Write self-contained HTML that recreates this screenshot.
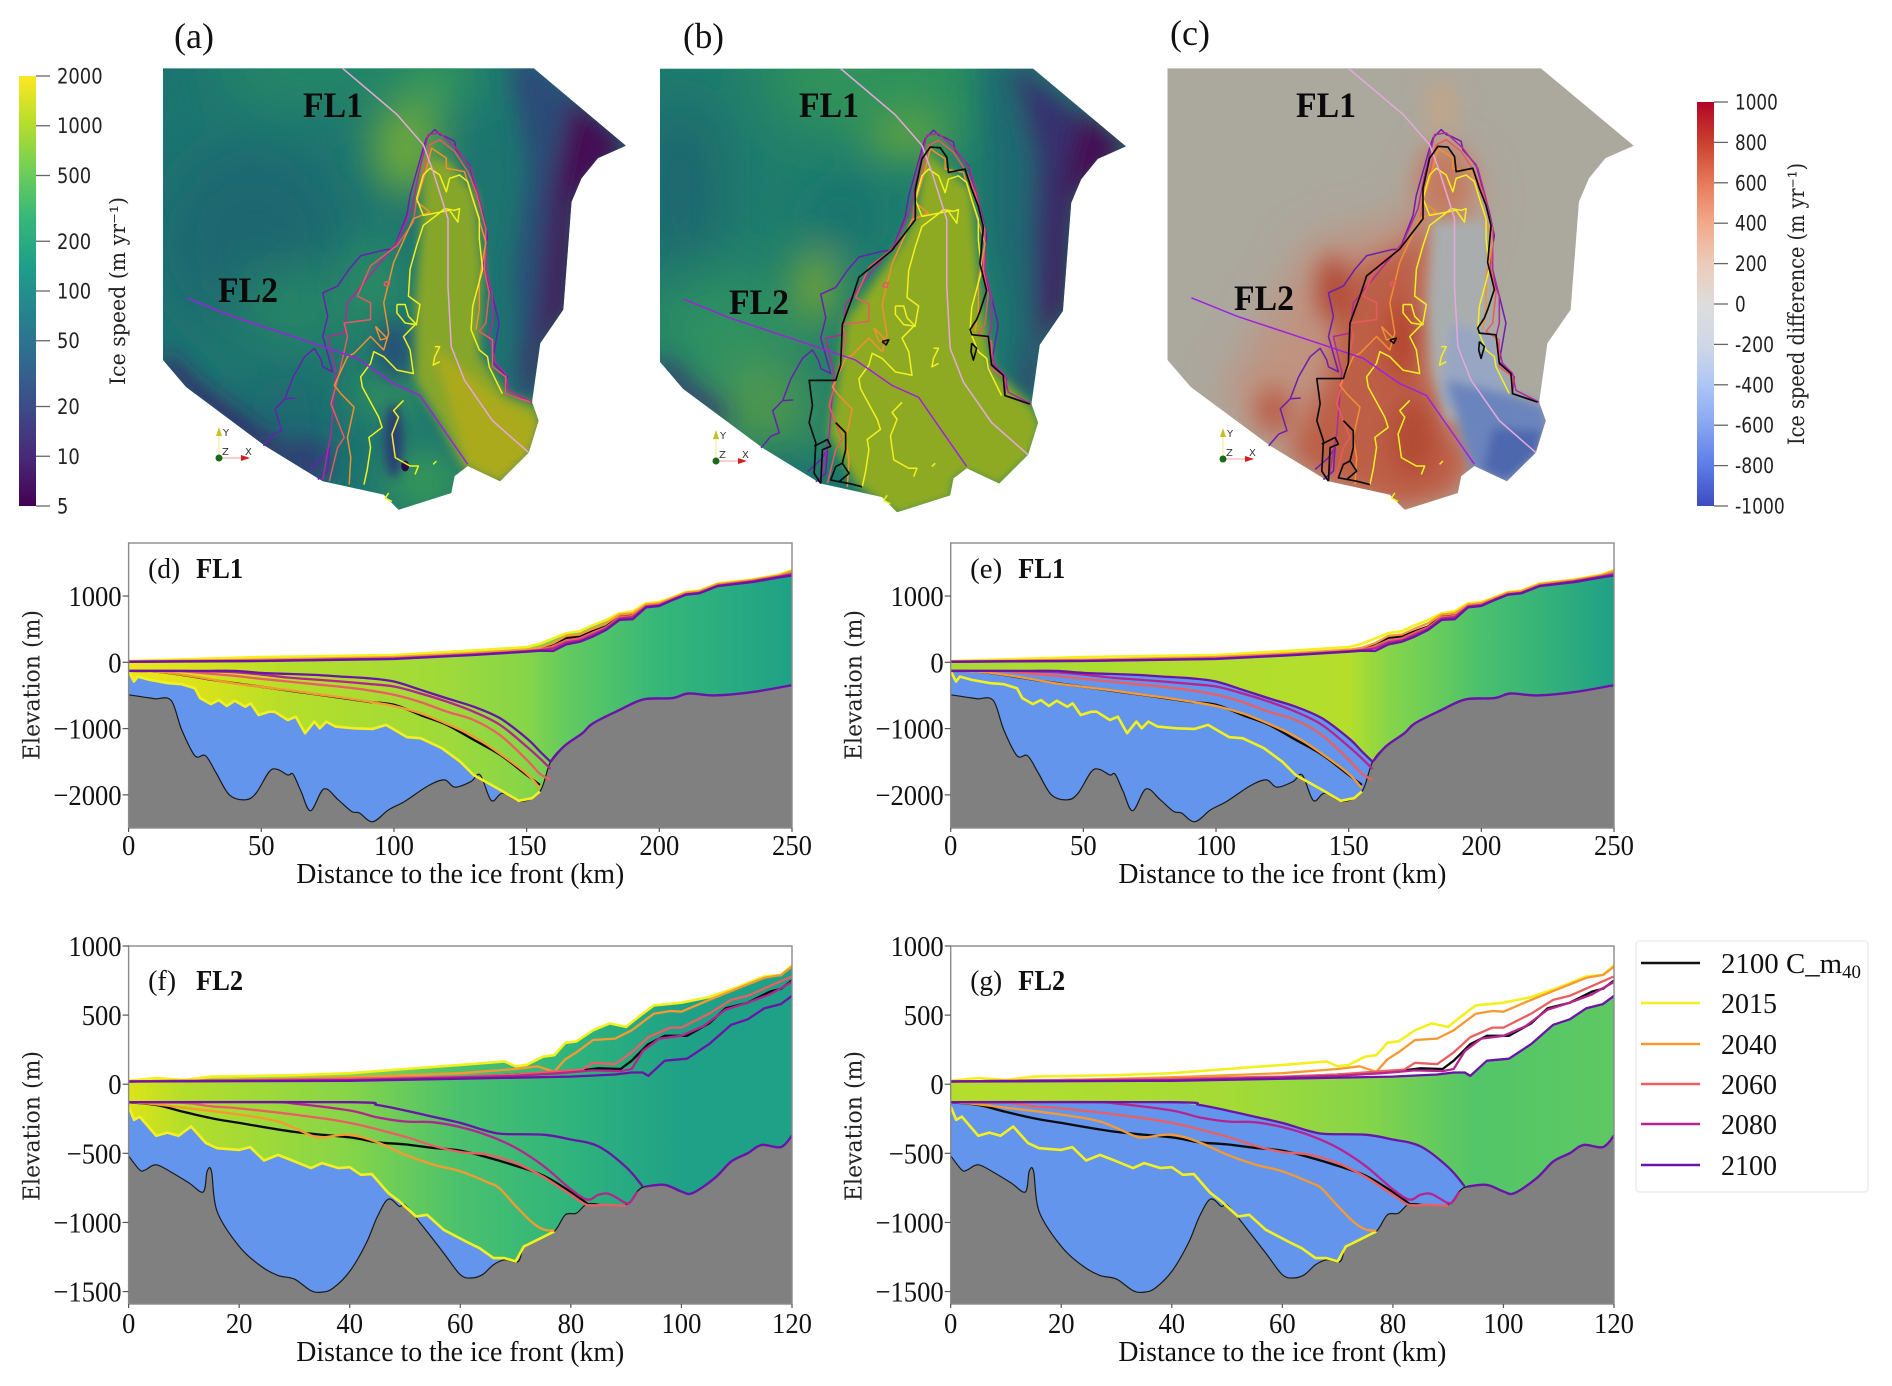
<!DOCTYPE html>
<html lang="en">
<head>
<meta charset="utf-8">
<title>Ice speed and flowline profiles</title>
<style>
html,body{margin:0;padding:0;background:#fff;width:1892px;height:1386px;overflow:hidden}
svg{display:block}
.serif{font-family:"Liberation Serif",serif;fill:#111}
.dejavu{font-family:"DejaVu Serif",serif;fill:#222}
.cb{font-family:"DejaVu Sans",sans-serif;fill:#222;font-size:21px}
.fl{font-family:"Liberation Serif",serif;font-weight:bold;font-size:36px;fill:#0a0a0a}
.letter{font-family:"Liberation Serif",serif;font-size:36px;fill:#111}
.triad{font-family:"DejaVu Sans",sans-serif;font-size:10px;fill:#333}
</style>
</head>
<body>
<svg id="fig" xmlns="http://www.w3.org/2000/svg" width="1892" height="1386" viewBox="0 0 1892 1386">
<defs>
  <clipPath id="mapClip"><polygon points="60,203 1185,203 1465,433 1380,470 1330,530 1300,600 1275,920 1205,1020 1180,1195 1200,1250 1170,1345 1083,1430 985,1385 945,1415 935,1465 775,1515 730,1470 545,1430 370,1325 130,1150 60,1070"/></clipPath>
  <filter id="b90" x="-80%" y="-80%" width="260%" height="260%"><feGaussianBlur stdDeviation="90"/></filter>
  <filter id="b60" x="-80%" y="-80%" width="260%" height="260%"><feGaussianBlur stdDeviation="60"/></filter>
  <filter id="b35" x="-50%" y="-50%" width="200%" height="200%"><feGaussianBlur stdDeviation="35"/></filter>
  <filter id="b15" x="-50%" y="-50%" width="200%" height="200%"><feGaussianBlur stdDeviation="15"/></filter>

  <g id="contoursCommon" fill="none" stroke-width="4.5" stroke-linejoin="round">
    <polyline stroke="#6a1fb0" points="365,1325 395,1290 420,1280 400,1215 430,1185 460,1183 430,1185 455,1120 490,1060 520,1035 540,1070 545,1090 575,1105 545,1000 560,940 545,870 590,850 625,800 660,760 735,742 760,740 800,640 810,580 850,440 860,410 885,385 900,400 915,405 945,420 950,445 990,490 1010,560 1030,630 1045,700 1030,790 1060,880 1080,960 1060,1075 1105,1120 1100,1170 1180,1195"/>
    <polyline stroke="#6a1fb0" points="505,1395 545,1360 565,1330 560,1400 530,1425"/>
    <polyline stroke="#b02a9a" points="545,1425 560,1340 570,1290 585,1105 560,1000 610,990 620,900 770,720 815,620 835,520 865,400 900,395 950,440 995,500 1020,590 1040,690 1040,800 1060,880 1060,960 1050,1000 1070,1080 1100,1110 1110,1160 1180,1195"/>
    <polyline stroke="#e85a60" points="565,1430 590,1330 610,1300 570,1200 595,1110 620,1000 610,960 690,950 690,900 650,880 690,790 770,730 820,660 830,590 870,430 900,415 945,450 985,510 1010,570 1040,680 1035,800 1050,870 1040,960 1020,985 1060,1010 1060,1090 1100,1120 1100,1170 1175,1195"/>
    <polyline stroke="#f09030" points="625,1440 630,1360 620,1300 640,1210 600,1170 580,1145 620,1060 640,1050 690,1000 730,1040 745,990 730,900 760,780 820,650 870,630 830,600 860,500 875,440 920,470 920,500 975,510 990,560 1040,720 1020,830 1020,920 1010,980"/>
    <polyline stroke="#e85a60" points="732,840 748,835 745,850 732,848 732,840"/>
    <polyline stroke="#f09030" points="705,970 740,1005 720,1010 705,970"/>
    <polyline stroke="#f3f020" points="670,1440 680,1395 690,1330 685,1300 725,1270 715,1240 665,1150 660,1120 690,1080 700,1045 730,1060 770,1100 820,1110 810,1040 790,1000 830,960 840,905 805,880 810,800 830,730 850,670 890,640 915,620 945,625 960,620 955,660 930,625 850,640 830,590 850,520 870,500 900,520 920,570 930,530 960,520 985,540 1000,590 1020,650 1020,710 1030,800 1000,910 995,980 1020,1040 1045,1060 1050,1090 1090,1170"/>
    <polyline stroke="#f3f020" points="770,905 795,905 805,940 830,965 795,960 770,930 770,905"/>
    <polyline stroke="#f3f020" points="885,1030 900,1030 885,1060 880,1085 900,1075"/>
    <polyline stroke="#f3f020" points="790,1190 760,1220 775,1240 755,1290 765,1360 810,1385 835,1385 825,1410"/>
    <polyline stroke="#f3f020" points="745,1465 735,1480 755,1490"/>
    <polyline stroke="#f3f020" points="880,1380 890,1370"/>
    <polyline stroke="#e6a8dc" points="605,203 770,340 850,430 880,510 925,650 925,850 935,1030 975,1130 1060,1250 1170,1345"/>
    <polyline stroke="#a020e0" points="132,885 270,940 530,1025 650,1065 760,1140 840,1175 900,1260 985,1380"/>
  </g>
  <g id="contoursBlack" fill="none" stroke="#0c0c0c" stroke-width="5" stroke-linejoin="round">
    <polyline points="545,1430 525,1400 530,1310 510,1250 520,1200 510,1125 590,1125 605,1080 610,960 640,880 660,820 760,740 830,650 830,560 850,470 875,435 905,437 925,465 930,510 980,500 1000,560 1020,610 1035,670 1025,780 1045,860 1025,920 1015,945 995,975 1000,990 1050,995 1060,1080 1095,1110 1100,1170 1175,1195"/>
    <polyline points="590,1250 620,1280 620,1330 610,1370 590,1380 575,1420 630,1430 670,1440"/>
    <polyline points="525,1320 565,1300 575,1320 550,1330 545,1430"/>
    <polyline points="610,1370 630,1400 600,1425"/>
    <polyline points="730,1010 750,1005 742,1020 730,1010"/>
    <polyline points="1000,1015 1015,1030 1005,1065 998,1040 1000,1015"/>
  </g>
</defs>

<rect width="1892" height="1386" fill="#fff"/>

<!-- Map (a) -->
<g transform="translate(143.2,0) scale(.3295,.3365)">
  <g clip-path="url(#mapClip)">
    <rect x="0" y="150" width="1500" height="1400" fill="#1d7470"/>
    <g filter="url(#b90)">
      <polygon points="200,120 1050,120 1050,300 300,300" fill="#288c64"/>
      <ellipse cx="330" cy="720" rx="260" ry="280" fill="#1a6670"/>
      <ellipse cx="470" cy="910" rx="190" ry="90" fill="#2c8e60"/>
      <ellipse cx="420" cy="1250" rx="170" ry="110" fill="#1e6670"/>
    </g>
    <g filter="url(#b60)">
      <ellipse cx="880" cy="250" rx="90" ry="70" fill="#3a9a58"/>
      <ellipse cx="800" cy="440" rx="110" ry="140" fill="#6aa83c"/>
      <ellipse cx="740" cy="1170" rx="110" ry="60" fill="#3b9a56"/>
      <ellipse cx="850" cy="1430" rx="120" ry="90" fill="#379a56"/>
      <ellipse cx="700" cy="850" rx="90" ry="160" fill="#2a8a64"/>
    </g>
    <g filter="url(#b35)">
      <polygon points="1110,180 1200,180 1480,433 1380,480 1300,620 1280,920 1205,1020 1185,1195 1130,1180 1140,1000 1130,800 1170,500" fill="#2b4b78"/>
      <polygon points="1300,280 1480,433 1310,600 1290,920 1215,1030 1190,1200 1165,1100 1215,900 1240,560" fill="#440a54"/>
      <polyline points="60,1070 130,1150 370,1325 545,1430" fill="none" stroke="#3c1a6c" stroke-width="50"/>
      <ellipse cx="490" cy="1370" rx="80" ry="70" fill="#2d4074"/>
      <ellipse cx="760" cy="1040" rx="50" ry="90" fill="#264e78"/>
    </g>
    <g filter="url(#b15)">
      <ellipse cx="760" cy="1310" rx="28" ry="110" fill="#2b3c74"/>
      <polygon points="855,470 930,480 1010,580 1030,800 1020,1050 1100,1170 1195,1205 1210,1250 1180,1350 1083,1440 975,1395 900,1260 825,1130 825,900 845,650" fill="#86a62a"/>
      <polygon points="880,1030 1090,1190 1210,1250 1180,1350 1083,1440 985,1385" fill="#aaaa1a"/>
    </g>
    <ellipse cx="795" cy="1385" rx="12" ry="16" fill="#2b0a4a"/>
  </g>
  <use href="#contoursCommon"/>
</g>

<!-- Map (b) -->
<g transform="translate(640,0) scale(.3317,.3381)">
  <g clip-path="url(#mapClip)">
    <rect x="0" y="150" width="1500" height="1400" fill="#1f7d6c"/>
    <g filter="url(#b90)">
      <polygon points="350,120 1000,120 1000,380 450,380" fill="#329558"/>
      <ellipse cx="120" cy="560" rx="130" ry="280" fill="#1a6670"/>
      <ellipse cx="260" cy="970" rx="240" ry="170" fill="#2d9160"/>
      <ellipse cx="380" cy="1210" rx="130" ry="110" fill="#5fa040"/>
    </g>
    <g filter="url(#b60)">
      <ellipse cx="610" cy="640" rx="110" ry="110" fill="#17746e"/>
      <ellipse cx="810" cy="400" rx="130" ry="60" fill="#68a73c"/>
      <ellipse cx="530" cy="850" rx="60" ry="110" fill="#7fa830"/>
    </g>
    <g filter="url(#b35)">
      <polygon points="1030,180 1190,180 1330,320 1240,500 1200,800 1180,1100 1090,1150 1100,900 1050,700 1050,450" fill="#1f6b70"/>
      <polygon points="1120,180 1480,433 1380,480 1310,600 1285,920 1210,1030 1190,1200 1140,1140 1190,1000 1180,700 1190,480" fill="#34306e"/>
      <polygon points="1330,320 1480,433 1310,590 1285,920 1215,1020 1250,800 1275,540" fill="#440a54"/>
      <polyline points="60,1070 130,1150 250,1240" fill="none" stroke="#3c2a70" stroke-width="45"/>
      <polyline points="400,1345 545,1430 760,1500" fill="none" stroke="#1f6c70" stroke-width="40"/>
    </g>
    <g filter="url(#b15)">
      <polygon points="860,450 1000,560 1030,900 1060,1090 1180,1200 1210,1250 1180,1350 1083,1440 985,1395 945,1425 945,1475 775,1525 650,1430 570,1280 600,1100 620,950 780,730 830,640" fill="#8eaa20"/>
    </g>
  </g>
  <use href="#contoursCommon"/>
  <use href="#contoursBlack"/>
</g>

<!-- Map (c) -->
<g transform="translate(1147.6,0) scale(.3318,.3365)">
  <g clip-path="url(#mapClip)">
    <rect x="0" y="150" width="1500" height="1400" fill="#aba89e"/>
    <g filter="url(#b60)">
      <polygon points="480,720 780,640 850,500 880,430 990,520 1000,620 860,1000 980,1380 775,1515 320,1290 220,1180" fill="#bf9380"/>
    </g>
    <g filter="url(#b35)">
      <ellipse cx="885" cy="320" rx="45" ry="85" fill="#c4a488"/>
      <polygon points="580,880 650,780 780,730 820,660 845,660 830,900 840,1100 900,1250 985,1385 945,1415 935,1465 775,1515 560,1440 420,1350 490,1220 550,1100" fill="#bd5f47"/>
      <ellipse cx="560" cy="860" rx="50" ry="100" fill="#b14c37"/>
      <ellipse cx="380" cy="1220" rx="55" ry="70" fill="#b9604b"/>
      <ellipse cx="770" cy="1010" rx="50" ry="120" fill="#b5452f"/>
      <ellipse cx="800" cy="1300" rx="70" ry="120" fill="#b34c34"/>
      <ellipse cx="895" cy="540" rx="80" ry="110" fill="#c47a5e"/>
    </g>
    <g filter="url(#b15)">
      <polygon points="860,660 1020,660 1040,1000 1090,1170 1000,1250 900,1250 860,1100 850,900" fill="#a9adae"/>
      <polygon points="915,960 1040,1000 1090,1170 1000,1260 880,1190" fill="#97a6c2"/>
      <polygon points="900,1130 1090,1170 1195,1205 1210,1250 1180,1350 1083,1440 975,1395" fill="#6a85bd"/>
      <polygon points="1040,1270 1195,1280 1170,1360 1083,1430 1010,1400" fill="#4d68af"/>
    </g>
  </g>
  <use href="#contoursCommon"/>
  <use href="#contoursBlack"/>
</g>

<text class="letter" x="174" y="48" textLength="40" lengthAdjust="spacingAndGlyphs">(a)</text>
<text class="letter" x="683" y="48" textLength="41" lengthAdjust="spacingAndGlyphs">(b)</text>
<text class="letter" x="1170" y="45" textLength="40" lengthAdjust="spacingAndGlyphs">(c)</text>
<text class="fl" x="303" y="117" textLength="60" lengthAdjust="spacingAndGlyphs">FL1</text>
<text class="fl" x="218" y="302" textLength="60" lengthAdjust="spacingAndGlyphs">FL2</text>
<text class="fl" x="799" y="117" textLength="60" lengthAdjust="spacingAndGlyphs">FL1</text>
<text class="fl" x="729" y="314" textLength="60" lengthAdjust="spacingAndGlyphs">FL2</text>
<text class="fl" x="1296" y="117" textLength="60" lengthAdjust="spacingAndGlyphs">FL1</text>
<text class="fl" x="1234" y="310" textLength="60" lengthAdjust="spacingAndGlyphs">FL2</text>

<!-- Orientation triads -->
<g transform="translate(219,458)">
  <line x1="0" y1="0" x2="0" y2="-26" stroke="#f2ee80" stroke-width="1"/>
  <polygon points="-3,-22 3,-22 0,-31" fill="#c8c020"/>
  <line x1="0" y1="0" x2="26" y2="0" stroke="#f0a0a0" stroke-width="1"/>
  <polygon points="22,-3 22,3 31,0" fill="#d02020"/>
  <circle r="3.5" fill="#1a6a1a"/>
  <text class="triad" x="4" y="-22">Y</text>
  <text class="triad" x="3" y="-3">Z</text>
  <text class="triad" x="26" y="-3">X</text>
</g>
<g transform="translate(716,461)">
  <line x1="0" y1="0" x2="0" y2="-26" stroke="#f2ee80" stroke-width="1"/>
  <polygon points="-3,-22 3,-22 0,-31" fill="#c8c020"/>
  <line x1="0" y1="0" x2="26" y2="0" stroke="#f0a0a0" stroke-width="1"/>
  <polygon points="22,-3 22,3 31,0" fill="#d02020"/>
  <circle r="3.5" fill="#1a6a1a"/>
  <text class="triad" x="4" y="-22">Y</text>
  <text class="triad" x="3" y="-3">Z</text>
  <text class="triad" x="26" y="-3">X</text>
</g>
<g transform="translate(1223,459)">
  <line x1="0" y1="0" x2="0" y2="-26" stroke="#f2ee80" stroke-width="1"/>
  <polygon points="-3,-22 3,-22 0,-31" fill="#c8c020"/>
  <line x1="0" y1="0" x2="26" y2="0" stroke="#f0a0a0" stroke-width="1"/>
  <polygon points="22,-3 22,3 31,0" fill="#d02020"/>
  <circle r="3.5" fill="#1a6a1a"/>
  <text class="triad" x="4" y="-22">Y</text>
  <text class="triad" x="3" y="-3">Z</text>
  <text class="triad" x="26" y="-3">X</text>
</g>

<!-- Colorbar titles -->
<text class="dejavu" font-size="21" transform="translate(125,291) rotate(-90)" text-anchor="middle" textLength="188" lengthAdjust="spacingAndGlyphs">Ice speed (m yr⁻¹)</text>
<text class="dejavu" font-size="22" transform="translate(1804,304) rotate(-90)" text-anchor="middle" textLength="282" lengthAdjust="spacingAndGlyphs">Ice speed difference (m yr⁻¹)</text>

<!-- Legend -->
<g>
  <rect x="1636" y="941" width="232" height="251" rx="3" fill="#fff" stroke="#eeeeee" stroke-width="1.5"/>
  <g>
    <line x1="1641" x2="1700" y1="963" y2="963" stroke="#111" stroke-width="2.4"/>
    <text class="serif" font-size="29" x="1721" y="973" textLength="140" lengthAdjust="spacingAndGlyphs">2100 C_m<tspan font-size="19" dy="5">40</tspan></text>
  </g>
  <g>
    <line x1="1641" x2="1700" y1="1003" y2="1003" stroke="#f3f020" stroke-width="2.4"/>
    <text class="serif" font-size="29" x="1721" y="1013" textLength="56" lengthAdjust="spacingAndGlyphs">2015</text>
  </g>
  <g>
    <line x1="1641" x2="1700" y1="1044" y2="1044" stroke="#f59a32" stroke-width="2.4"/>
    <text class="serif" font-size="29" x="1721" y="1054" textLength="56" lengthAdjust="spacingAndGlyphs">2040</text>
  </g>
  <g>
    <line x1="1641" x2="1700" y1="1084" y2="1084" stroke="#ea5f62" stroke-width="2.4"/>
    <text class="serif" font-size="29" x="1721" y="1094" textLength="56" lengthAdjust="spacingAndGlyphs">2060</text>
  </g>
  <g>
    <line x1="1641" x2="1700" y1="1124" y2="1124" stroke="#b5258f" stroke-width="2.4"/>
    <text class="serif" font-size="29" x="1721" y="1134" textLength="56" lengthAdjust="spacingAndGlyphs">2080</text>
  </g>
  <g>
    <line x1="1641" x2="1700" y1="1165" y2="1165" stroke="#6a14a8" stroke-width="2.4"/>
    <text class="serif" font-size="29" x="1721" y="1175" textLength="56" lengthAdjust="spacingAndGlyphs">2100</text>
  </g>
</g>
</svg>

<script>
// ---------- FL1 values ----------
const fl1BedKm = [0,5,10,16,20,25,29,33,38,44,48,53,56,60,62,65,68.6,73.6,79,84,87,92,98,104,113,119,123,129,132.5,136.7,141,148,155,159,164,171,175,185,194,205,211,221,235,250];
const fl1BedM = [-490,-520,-550,-575,-1020,-1410,-1410,-1670,-2000,-2075,-1975,-1650,-1615,-1700,-1690,-1950,-2240,-1910,-2075,-2250,-2275,-2405,-2225,-2100,-1860,-1775,-1885,-1800,-1700,-2085,-1975,-2100,-1950,-1500,-1270,-1070,-920,-720,-560,-540,-470,-500,-450,-345];
const fl1Base2015Km = [0,2,3.5,8,15,20,25,27,31,34,37,40,44,46,49,53,55,60,63,66.5,70,72,74.5,78,85,92,97,105,110,118,125,130,140,147,152,155];
const fl1Base2015M = [-130,-290,-215,-265,-315,-330,-390,-540,-630,-570,-660,-580,-670,-620,-795,-745,-745,-870,-820,-1070,-895,-995,-895,-970,-995,-1005,-945,-1130,-1145,-1295,-1500,-1700,-1925,-2090,-2050,-1950];
const fl1BaseKm = [0,10,20,30,40,50,60,70,80,90,100,110,120,130,140,150,155,159];
const fl1BaseCm40 = [-130,-140,-190,-255,-315,-370,-425,-480,-535,-595,-640,-795,-945,-1170,-1395,-1700,-1850];
const fl1Base2040 = [-130,-140,-185,-250,-320,-370,-420,-475,-530,-590,-660,-770,-930,-1120,-1380,-1680,-1900];
const fl1Base2060 = [-130,-130,-135,-170,-205,-250,-290,-330,-370,-420,-490,-600,-745,-870,-1100,-1470,-1680,-1775];
const fl1Base2080 = [-130,-130,-130,-135,-150,-185,-230,-260,-290,-325,-365,-470,-595,-745,-945,-1270,-1450,-1610];
const fl1Base2100 = [-130,-130,-130,-130,-130,-160,-175,-190,-215,-240,-290,-415,-545,-670,-845,-1145,-1345,-1500];
const fl1SurfKm = [0,50,100,130,150,155,160,165,170,175,180,185,190,195,200,205,210,215,222,235,245,250];
const fl1Surf2015 = [20,80,110,180,230,280,360,440,470,560,640,740,770,890,910,980,1060,1080,1190,1250,1320,1390];
const fl1SurfCm40 = [10,30,70,130,170,200,280,370,390,470,540,700,720,860,880,960,1040,1060,1170,1230,1300,1360];
const fl1Surf2040 = [15,40,80,140,190,220,290,400,420,510,590,720,740,870,890,970,1050,1070,1180,1240,1310,1375];
const fl1Surf2060 = [10,25,60,120,170,190,240,330,360,450,530,680,700,850,870,950,1030,1050,1160,1225,1295,1345];
const fl1Surf2080 = [10,22,55,115,165,180,210,300,330,420,510,660,680,840,860,945,1025,1045,1155,1220,1290,1330];
const fl1Surf2100 = [8,20,50,110,160,175,170,270,310,390,490,640,650,830,850,940,1020,1040,1150,1210,1280,1310];

// ---------- FL2 values ----------
const fl2BedKm = [0,2,3,5,8,11,13.5,14.2,15,16,20,24,27,30,33,35,37,40,43,45,47,49,50,53,57,60,62,64,66,68,70.5,71.5,74,77,79,81,83,86,90,92,93.5,97,100,102,106,109,112,114.5,118,120];
const fl2BedM = [-518,-620,-620,-583,-643,-716,-780,-631,-631,-920,-1173,-1318,-1383,-1410,-1494,-1504,-1475,-1354,-1149,-957,-831,-884,-872,-1017,-1222,-1378,-1402,-1378,-1306,-1270,-1282,-1173,-1125,-1065,-945,-933,-865,-872,-872,-776,-740,-728,-776,-788,-680,-559,-499,-439,-455,-371];
const fl2Base2015Km = [0,1,2,5,7,9,11.3,14,16,20,22,24.5,27,29,33,35,38,40,42,44,47,49,52,54,57,61,63.5,66,68,70,71.5,74,77];
const fl2Base2015M = [-161,-258,-234,-373,-350,-373,-306,-426,-463,-475,-455,-552,-511,-542,-607,-571,-607,-600,-655,-650,-788,-848,-957,-945,-1053,-1137,-1186,-1258,-1258,-1282,-1173,-1125,-1065];
const fl2BaseCm40Km = [0,5,10,15,20,30,40,45,50,55,60,65,70,75,80,83];
const fl2BaseCm40 = [-130,-150,-200,-246,-280,-345,-385,-420,-435,-460,-480,-530,-590,-660,-780,-865];
const fl2Base2040Km = [0,5,10,20,27,33,35,40,45,50,55,60,65,67,70,73,75,77];
const fl2Base2040 = [-130,-145,-170,-220,-270,-370,-385,-365,-420,-510,-580,-630,-710,-750,-880,-1000,-1050,-1060];
const fl2Base2060Km = [0,10,15,20,30,40,50,55,60,65,70,75,80,83,86,90];
const fl2Base2060 = [-130,-135,-160,-175,-220,-280,-380,-445,-490,-510,-570,-670,-800,-875,-872,-880];
const fl2Base2080Km = [0,25,30,40,45,50,55,60,65,70,75,80,83,85,87,90,91,92];
const fl2Base2080 = [-130,-130,-140,-190,-240,-270,-275,-310,-370,-460,-590,-760,-835,-800,-795,-860,-840,-776];
const fl2Base2100Km = [0,40,45,50,55,60,65,68,75,80,85,90,93];
const fl2Base2100 = [-130,-130,-150,-190,-235,-280,-340,-360,-365,-400,-450,-600,-740];
const fl2Surf2015Km = [0,5,10,15,30,40,50,60,68,70,72,75,77,79,81,84,87,90,92,95,100,105,110,115,118,120];
const fl2Surf2015 = [25,45,30,55,65,80,110,140,165,130,140,200,210,300,310,390,440,415,480,570,590,630,700,780,790,860];
const fl2Surf2040Km = [0,20,40,60,70,74,77,79,81,84,88,91,95,98,100,105,110,115,118,120];
const fl2Surf2040 = [20,30,50,80,110,130,90,180,230,320,330,390,510,530,525,610,690,770,790,850];
const fl2Surf2060Km = [0,40,60,70,78,82,84,88,91,94,98,100,105,109,112,116,120];
const fl2Surf2060 = [20,40,55,70,95,105,155,145,230,340,410,410,510,610,640,710,780];
const fl2SurfCm40Km = [0,40,60,70,80,85,89,91,94,97,101,105,108,112,116,118,120];
const fl2SurfCm40 = [20,40,50,70,90,115,110,170,290,350,350,440,550,590,670,690,750];
const fl2Surf2080Km = [0,40,60,70,78,84,89,91,93,96,100,104,108,112,116,120];
const fl2Surf2080 = [20,30,50,60,80,100,95,110,240,330,350,420,540,590,650,740];
const fl2Surf2100Km = [0,40,60,80,88,91,93,94,97,101,105,109,112,115,118,120];
const fl2Surf2100 = [20,25,40,55,70,85,85,60,170,185,290,430,470,550,580,640];

// ---------- Tick labels ----------
const fl1XTicks = [0,50,100,150,200,250];
const fl1YTicks = [1000,0,-1000,-2000];
const fl2XTicks = [0,20,40,60,80,100,120];
const fl2YTicks = [1000,500,0,-500,-1000,-1500];
const speedTicks = [2000,1000,500,200,100,50,20,10,5];
const diffTicks = [1000,800,600,400,200,0,-200,-400,-600,-800,-1000];

// ---------- Colour ramps ----------
const viridisColors = ['#440154','#482878','#3e4989','#31688e','#26828e','#1f9e89','#35b779','#6ece58','#b5de2b','#fde725'];
const coolwarmColors = ['#3b4cc0','#5d7ce6','#86a6f2','#aec6f5','#d0d8e6','#dddcdc','#eccbb8','#f2a98a','#e67a58','#c9412f','#b40426'];
const iceRampD = [[0,'#efe51c'],[30,'#d5e21a'],[60,'#b5de2b'],[120,'#9fda3a'],[150,'#86d549'],[165,'#63cb5f'],[200,'#35b779'],[250,'#1fa187']];
const iceRampE = [[0,'#a8db34'],[150,'#b5de2b'],[165,'#86d549'],[180,'#6ece58'],[200,'#4ac16d'],[250,'#1fa187']];
const iceRampF = [[0,'#dde318'],[10,'#b5de2b'],[40,'#86d549'],[60,'#4ac16d'],[80,'#2fb47c'],[100,'#1fa187'],[120,'#1fa187']];
const iceRampG = [[0,'#b5de2b'],[50,'#a5db36'],[75,'#86d549'],[90,'#5ec962'],[95,'#52c569'],[120,'#5ec962']];

const NS = 'http://www.w3.org/2000/svg';
const fig = document.getElementById('fig');
const defs = fig.querySelector('defs');

function mk(parent, tag, attrs, txt) {
  const el = document.createElementNS(NS, tag);
  for (const k in attrs) el.setAttribute(k, attrs[k]);
  if (txt !== undefined) el.textContent = txt;
  parent.appendChild(el);
  return el;
}
function named(el, name, interactive) {
  
  
  return el;
}
function fmtTick(v) { return v < 0 ? '\u2212' + Math.abs(v) : String(v); }
function tickLen(v) { return String(Math.abs(v)).length * 13.3 + (v < 0 ? 15 : 0); }

// Catmull-Rom through the data points, so bed and ice-base curves read as smooth
function smooth(p) {
  let d = 'M' + p[0][0].toFixed(1) + ' ' + p[0][1].toFixed(1);
  for (let i = 0; i < p.length - 1; i++) {
    const a = p[Math.max(i - 1, 0)], b = p[i], c = p[i + 1], e = p[Math.min(i + 2, p.length - 1)];
    const c1x = b[0] + (c[0] - a[0]) / 6, c1y = b[1] + (c[1] - a[1]) / 6;
    const c2x = c[0] - (e[0] - b[0]) / 6, c2y = c[1] - (e[1] - b[1]) / 6;
    d += 'C' + c1x.toFixed(1) + ' ' + c1y.toFixed(1) + ' ' + c2x.toFixed(1) + ' ' + c2y.toFixed(1) + ' ' + c[0].toFixed(1) + ' ' + c[1].toFixed(1);
  }
  return d;
}

const COLORS = {y2015:'#f3f020', y2040:'#f59a32', y2060:'#ea5f62', y2080:'#b5258f', y2100:'#6a14a8', cm40:'#0c0c0c'};
const OCEAN = '#6495ed';
const BEDROCK = '#808080';

const fl1 = {
  xlim:[0,250], ylim:[-2500,1800], xticks:fl1XTicks, yticks:fl1YTicks,
  bed:[fl1BedKm,fl1BedM],
  base:{y2015:[fl1Base2015Km,fl1Base2015M], cm40:[fl1BaseKm,fl1BaseCm40], y2040:[fl1BaseKm,fl1Base2040], y2060:[fl1BaseKm,fl1Base2060], y2080:[fl1BaseKm,fl1Base2080], y2100:[fl1BaseKm,fl1Base2100]},
  surf:{y2015:[fl1SurfKm,fl1Surf2015], cm40:[fl1SurfKm,fl1SurfCm40], y2040:[fl1SurfKm,fl1Surf2040], y2060:[fl1SurfKm,fl1Surf2060], y2080:[fl1SurfKm,fl1Surf2080], y2100:[fl1SurfKm,fl1Surf2100]}
};
const fl2 = {
  xlim:[0,120], ylim:[-1590,1000], xticks:fl2XTicks, yticks:fl2YTicks,
  bed:[fl2BedKm,fl2BedM],
  base:{y2015:[fl2Base2015Km,fl2Base2015M], cm40:[fl2BaseCm40Km,fl2BaseCm40], y2040:[fl2Base2040Km,fl2Base2040], y2060:[fl2Base2060Km,fl2Base2060], y2080:[fl2Base2080Km,fl2Base2080], y2100:[fl2Base2100Km,fl2Base2100]},
  surf:{y2015:[fl2Surf2015Km,fl2Surf2015], cm40:[fl2SurfCm40Km,fl2SurfCm40], y2040:[fl2Surf2040Km,fl2Surf2040], y2060:[fl2Surf2060Km,fl2Surf2060], y2080:[fl2Surf2080Km,fl2Surf2080], y2100:[fl2Surf2100Km,fl2Surf2100]}
};

function drawProfile(id, flName, data, box, iceKey, ramp, layout) {
  const g = named(mk(fig, 'g', {}), 'panel-' + id, false);
  const sx = km => box.x0 + (km - data.xlim[0]) / (data.xlim[1] - data.xlim[0]) * (box.x1 - box.x0);
  const sy = m => box.y0 + (data.ylim[1] - m) / (data.ylim[1] - data.ylim[0]) * (box.y1 - box.y0);
  const pts = (xs, ys) => ys.map((v, i) => sx(xs[i]).toFixed(1) + ',' + sy(v).toFixed(1));
  const xy = (xs, ys) => ys.map((v, i) => [sx(xs[i]), sy(v)]);

  const clipId = 'clip-' + id;
  const cp = mk(defs, 'clipPath', {id: clipId});
  mk(cp, 'rect', {x: box.x0, y: box.y0, width: box.x1 - box.x0, height: box.y1 - box.y0});
  const gradId = 'ice-' + id;
  const lg = mk(defs, 'linearGradient', {id: gradId, gradientUnits: 'userSpaceOnUse', x1: sx(data.xlim[0]), x2: sx(data.xlim[1]), y1: 0, y2: 0});
  ramp.forEach(s => mk(lg, 'stop', {offset: (s[0] - data.xlim[0]) / (data.xlim[1] - data.xlim[0]), 'stop-color': s[1]}));

  const plot = named(mk(g, 'g', {'clip-path': 'url(#' + clipId + ')'}), 'plot-area-' + id, false);
  const baseIce = data.base[iceKey];
  const surfIce = data.surf[iceKey];
  const glKm = baseIce[0][baseIce[1].length - 1];
  const bottom = data.ylim[0];
  const xEnd = data.xlim[1];

  const ocean = mk(plot, 'polygon', {fill: OCEAN, points: pts(baseIce[0], baseIce[1]).concat([sx(glKm) + ',' + sy(bottom), sx(0) + ',' + sy(bottom)]).join(' ')});
  named(ocean, 'ocean-' + id, false);

  const icePts = pts(surfIce[0], surfIce[1]).concat([sx(xEnd) + ',' + sy(bottom), sx(glKm) + ',' + sy(bottom)]).concat(pts(baseIce[0], baseIce[1]).reverse());
  const ice = mk(plot, 'polygon', {fill: 'url(#' + gradId + ')', points: icePts.join(' ')});
  named(ice, 'ice-body-' + id, false);

  const bedD = smooth(xy(data.bed[0], data.bed[1]));
  const rock = mk(plot, 'path', {fill: BEDROCK, d: bedD + 'L' + sx(xEnd) + ' ' + sy(bottom) + 'L' + sx(0) + ' ' + sy(bottom) + 'Z'});
  named(rock, 'bedrock-' + id, false);
  const bedLine = mk(plot, 'path', {fill: 'none', stroke: '#1a1a1a', 'stroke-width': 1.2, d: bedD});
  named(bedLine, 'bed-line-' + id, false);

  // grounded stretch of the 2100 ice base follows the bed
  const gl2100 = data.base.y2100[0][data.base.y2100[1].length - 1];
  const gx = [], gy = [];
  data.bed[0].forEach((k, i) => { if (k >= gl2100) { gx.push(k); gy.push(data.bed[1][i]); } });
  const grounded = mk(plot, 'path', {fill: 'none', stroke: COLORS.y2100, 'stroke-width': 2.4, d: smooth(xy(gx, gy))});
  named(grounded, 'grounded-base-2100-' + id, false);

  const order = ['y2015', 'cm40', 'y2040', 'y2060', 'y2080', 'y2100'];
  order.forEach(key => {
    const b = data.base[key];
    const s = data.surf[key];
    const w = key === 'y2015' ? 2.6 : 2.3;
    const baseAttrs = {fill: 'none', stroke: COLORS[key], 'stroke-width': w, 'stroke-linejoin': 'round', d: key === 'y2015' ? 'M' + pts(b[0], b[1]).join('L') : smooth(xy(b[0], b[1]))};
    const bl = mk(plot, 'path', baseAttrs);
    named(bl, 'base-line-' + key + '-' + id, false);
    const sl = mk(plot, 'polyline', {fill: 'none', stroke: COLORS[key], 'stroke-width': w, 'stroke-linejoin': 'round', points: pts(s[0], s[1]).join(' ')});
    named(sl, 'surface-line-' + key + '-' + id, false);
  });

  const frame = mk(g, 'rect', {x: box.x0, y: box.y0, width: box.x1 - box.x0, height: box.y1 - box.y0, fill: 'none', stroke: '#8a8a8a', 'stroke-width': 1.4});
  named(frame, 'axes-frame-' + id, false);

  data.xticks.forEach(v => {
    const t = mk(g, 'line', {x1: sx(v), x2: sx(v), y1: box.y1, y2: box.y1 + 4, stroke: '#555', 'stroke-width': 1.2});
    named(t, 'x-tick-' + id, false);
    const l = mk(g, 'text', {class: 'serif', 'font-size': 29, x: sx(v), y: layout.xTickY, 'text-anchor': 'middle', textLength: tickLen(v), lengthAdjust: 'spacingAndGlyphs'}, fmtTick(v));
    named(l, 'x-tick-label-' + id, false);
  });
  data.yticks.forEach(v => {
    const t = mk(g, 'line', {x1: box.x0 - 6, x2: box.x0, y1: sy(v), y2: sy(v), stroke: '#555', 'stroke-width': 1.2});
    named(t, 'y-tick-' + id, false);
    const l = mk(g, 'text', {class: 'serif', 'font-size': 29, x: box.x0 - 7, y: sy(v) + 10, 'text-anchor': 'end', textLength: tickLen(v), lengthAdjust: 'spacingAndGlyphs'}, fmtTick(v));
    named(l, 'y-tick-label-' + id, false);
  });

  const xt = mk(g, 'text', {class: 'serif', 'font-size': 29, x: (box.x0 + box.x1) / 2, y: layout.xTitleY, 'text-anchor': 'middle', textLength: 328, lengthAdjust: 'spacingAndGlyphs'}, 'Distance to the ice front (km)');
  named(xt, 'x-axis-title-' + id, false);
  const yt = mk(g, 'text', {class: 'dejavu', 'font-size': 23, 'text-anchor': 'middle', transform: 'translate(' + (box.x0 - 89) + ',' + layout.yTitleCy + ') rotate(-90)', textLength: 150, lengthAdjust: 'spacingAndGlyphs'}, 'Elevation (m)');
  named(yt, 'y-axis-title-' + id, false);

  const tag = mk(g, 'text', {class: 'serif', 'font-size': 28, x: box.x0 + 19.5, y: layout.tagY, textLength: id === 'f' ? 28 : 32, lengthAdjust: 'spacingAndGlyphs'}, '(' + id + ')');
  named(tag, 'panel-label-' + id, false);
  const fl = mk(g, 'text', {class: 'serif', 'font-size': 28, 'font-weight': 'bold', x: box.x0 + 67.5, y: layout.tagY, textLength: 47, lengthAdjust: 'spacingAndGlyphs'}, flName);
  named(fl, 'flowline-label-' + id, false);
}

drawProfile('d', 'FL1', fl1, {x0:128.6, x1:792, y0:543, y1:828}, 'y2015', iceRampD, {xTickY:855, xTitleY:883, yTitleCy:685, tagY:578});
drawProfile('e', 'FL1', fl1, {x0:950.7, x1:1614, y0:543, y1:828}, 'y2100', iceRampE, {xTickY:855, xTitleY:883, yTitleCy:685, tagY:578});
drawProfile('f', 'FL2', fl2, {x0:128.6, x1:792, y0:946, y1:1304}, 'y2015', iceRampF, {xTickY:1333, xTitleY:1361, yTitleCy:1126, tagY:990});
drawProfile('g', 'FL2', fl2, {x0:950.7, x1:1614, y0:946, y1:1304}, 'y2100', iceRampG, {xTickY:1333, xTitleY:1361, yTitleCy:1126, tagY:990});

// ---------- Colorbars ----------
function drawColorbar(name, colors, ticks, scale, x0, x1, y0, y1, digitW) {
  const gid = 'grad-' + name;
  const lg = mk(defs, 'linearGradient', {id: gid, x1: 0, x2: 0, y1: 1, y2: 0});
  colors.forEach((c, i) => mk(lg, 'stop', {offset: i / (colors.length - 1), 'stop-color': c}));
  const g = named(mk(fig, 'g', {}), name + '-colorbar', false);
  const bar = mk(g, 'rect', {x: x0, y: y0, width: x1 - x0, height: y1 - y0, fill: 'url(#' + gid + ')'});
  named(bar, name + '-colorbar-ramp', false);
  ticks.forEach(v => {
    const y = y0 + scale(v) * (y1 - y0);
    const t = mk(g, 'line', {x1: x1, x2: x1 + 14, y1: y, y2: y, stroke: '#666', 'stroke-width': 1.3});
    named(t, name + '-colorbar-tick', false);
    const l = mk(g, 'text', {class: 'cb', x: x1 + 21, y: y + 7.5, textLength: String(Math.abs(v)).length * digitW + (v < 0 ? 7 : 0), lengthAdjust: 'spacingAndGlyphs'}, String(v));
    named(l, name + '-colorbar-label', false);
  });
}
const speedScale = v => (Math.log(2000) - Math.log(v)) / (Math.log(2000) - Math.log(5));
const diffScale = v => (1000 - v) / 2000;
drawColorbar('speed', viridisColors, speedTicks, speedScale, 19, 36, 76, 506, 11.4);
drawColorbar('difference', coolwarmColors, diffTicks, diffScale, 1697, 1714, 102, 506, 10.7);
</script>
</body>
</html>
